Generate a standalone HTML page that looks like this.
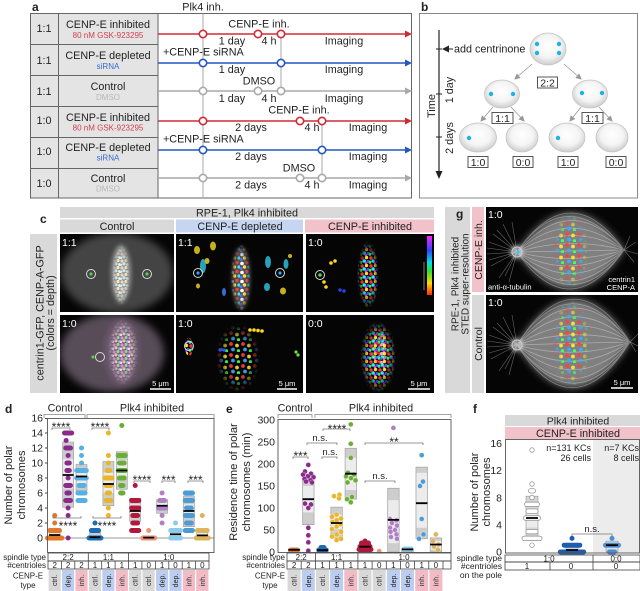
<!DOCTYPE html>
<html><head><meta charset="utf-8"><style>
html,body{margin:0;padding:0;background:#fff;width:640px;height:591px;overflow:hidden}
svg{display:block;font-family:"Liberation Sans",Arial,sans-serif}
</style></head><body>
<svg xmlns="http://www.w3.org/2000/svg" width="640" height="591" viewBox="0 0 640 591">
<defs>
<radialGradient id="cellg" cx="50%" cy="42%" r="58%"><stop offset="0" stop-color="#ffffff"/><stop offset="0.6" stop-color="#f4f4f4"/><stop offset="1" stop-color="#cdcdcd"/></radialGradient>
<linearGradient id="rb" x1="0" y1="1" x2="0" y2="0"><stop offset="0" stop-color="#ff2a00"/><stop offset="0.2" stop-color="#ffd800"/><stop offset="0.4" stop-color="#30e030"/><stop offset="0.55" stop-color="#00e0e8"/><stop offset="0.75" stop-color="#2848ff"/><stop offset="1" stop-color="#ff20ff"/></linearGradient>
<radialGradient id="fadeG" cx="50%" cy="50%" r="50%"><stop offset="0.55" stop-color="#fff"/><stop offset="1" stop-color="#000"/></radialGradient>
<mask id="mf" maskContentUnits="objectBoundingBox"><rect width="1" height="1" fill="url(#fadeG)"/></mask>
<filter id="b4" x="-50%" y="-50%" width="200%" height="200%"><feGaussianBlur stdDeviation="4"/></filter>
<filter id="b2" x="-50%" y="-50%" width="200%" height="200%"><feGaussianBlur stdDeviation="2"/></filter>
<marker id="ah" markerWidth="6" markerHeight="6" refX="5" refY="3" orient="auto" markerUnits="userSpaceOnUse"><path d="M0 0L6 3L0 6Z" fill="#999"/></marker>
<marker id="ahk" markerWidth="7" markerHeight="7" refX="6" refY="3.5" orient="auto" markerUnits="userSpaceOnUse"><path d="M0 0L7 3.5L0 7Z" fill="#222"/></marker>
<pattern id="rbw" width="9" height="8" patternUnits="userSpaceOnUse">
<circle cx="2" cy="2" r="1.7" fill="#ff3535"/><circle cx="6.5" cy="1.5" r="1.7" fill="#ffe030"/><circle cx="4.2" cy="5" r="1.7" fill="#30e8ff"/><circle cx="8.2" cy="5.5" r="1.6" fill="#3a5cff"/><circle cx="0.8" cy="6.2" r="1.6" fill="#40f040"/><circle cx="6" cy="7.4" r="1.2" fill="#ff40ff"/>
</pattern>
<pattern id="rbw2" width="10" height="9" patternUnits="userSpaceOnUse">
<circle cx="2" cy="2.5" r="1.8" fill="#ffffff"/><circle cx="7" cy="1.5" r="1.7" fill="#ff4040"/><circle cx="4.5" cy="6" r="1.7" fill="#ffe040"/><circle cx="9" cy="6" r="1.6" fill="#40e0ff"/><circle cx="1" cy="7.5" r="1.5" fill="#5070ff"/>
</pattern>
<pattern id="pst" width="8" height="7" patternUnits="userSpaceOnUse">
<circle cx="2" cy="2" r="1.6" fill="#ffd6d6"/><circle cx="6" cy="1.5" r="1.6" fill="#fff6c0"/><circle cx="4" cy="4.8" r="1.6" fill="#d0f6ff"/><circle cx="7.5" cy="5.5" r="1.4" fill="#ffffff"/><circle cx="0.8" cy="5.8" r="1.4" fill="#dcffd4"/>
</pattern>
<pattern id="pst2" width="8" height="7" patternUnits="userSpaceOnUse">
<circle cx="2" cy="2" r="1.6" fill="#f0a0f0"/><circle cx="6" cy="1.5" r="1.6" fill="#a0f0a0"/><circle cx="4" cy="4.8" r="1.6" fill="#ffe0a0"/><circle cx="7.5" cy="5.5" r="1.4" fill="#a0d8ff"/><circle cx="0.8" cy="5.8" r="1.4" fill="#ffffff"/>
</pattern>
<pattern id="rbs" width="12" height="11" patternUnits="userSpaceOnUse">
<circle cx="3" cy="3" r="1.9" fill="#ff4040"/><circle cx="9" cy="4.5" r="1.9" fill="#ffe030"/><circle cx="5" cy="8.5" r="1.9" fill="#40a8ff"/><circle cx="10.5" cy="9.8" r="1.7" fill="#40ff60"/>
</pattern>
<clipPath id="k1"><rect x="60" y="234" width="114" height="78"/></clipPath>
<clipPath id="k2"><rect x="176" y="234" width="127" height="78"/></clipPath>
<clipPath id="k3"><rect x="306" y="234" width="128" height="78"/></clipPath>
<clipPath id="k4"><rect x="60" y="315" width="114" height="78"/></clipPath>
<clipPath id="k5"><rect x="176" y="315" width="127" height="78"/></clipPath>
<clipPath id="k6"><rect x="306" y="315" width="128" height="78"/></clipPath>
<clipPath id="kg1"><rect x="486" y="207" width="152" height="85"/></clipPath>
<clipPath id="kg2"><rect x="486" y="295" width="152" height="98"/></clipPath>
</defs>

<!-- ===== Panel a ===== -->
<g font-size="10.8" fill="#222">
<text x="32" y="11" font-size="12" font-weight="bold">a</text>
<text x="203" y="10.5" text-anchor="middle">Plk4 inh.</text>
<rect x="30.5" y="13.5" width="127.5" height="184.5" fill="#e4e4e4"/>
<g stroke="#666" stroke-width="1" fill="none">
<rect x="30.5" y="13.5" width="381" height="184.5"/>
<line x1="58.5" y1="13.5" x2="58.5" y2="198"/>
<line x1="158" y1="13.5" x2="158" y2="198"/>
<path d="M30.5 44.5H158M30.5 75.5H158M30.5 106.5H158M30.5 137.5H158M30.5 168.5H158"/>
</g>
<g stroke="#aaa" stroke-width="1"><line x1="203" y1="13.5" x2="203" y2="198"/><line x1="281" y1="34" x2="281" y2="91"/><line x1="322" y1="121" x2="322" y2="178"/></g>
<g text-anchor="middle">
<text x="44" y="32">1:1</text><text x="44" y="64">1:1</text><text x="44" y="95">1:1</text>
<text x="44" y="124">1:0</text><text x="44" y="155">1:0</text><text x="44" y="187">1:0</text>
<text x="108" y="28">CENP-E inhibited</text>
<text x="108" y="38" font-size="8" fill="#d04050">80 nM GSK-923295</text>
<text x="108" y="59">CENP-E depleted</text>
<text x="108" y="69" font-size="8" fill="#3a6ad0">siRNA</text>
<text x="108" y="90">Control</text>
<text x="108" y="100" font-size="8" fill="#b8b8b8">DMSO</text>
<text x="108" y="121">CENP-E inhibited</text>
<text x="108" y="130.5" font-size="8" fill="#d04050">80 nM GSK-923295</text>
<text x="108" y="151">CENP-E depleted</text>
<text x="108" y="160.5" font-size="8" fill="#3a6ad0">siRNA</text>
<text x="108" y="182">Control</text>
<text x="108" y="191.5" font-size="8" fill="#b8b8b8">DMSO</text>
</g>
<g stroke-width="1.6">
<line x1="158" y1="34" x2="407" y2="34" stroke="#d22a35"/>
<line x1="158" y1="63" x2="407" y2="63" stroke="#2456c4"/>
<line x1="158" y1="91" x2="407" y2="91" stroke="#a8a8a8"/>
<line x1="158" y1="121" x2="407" y2="121" stroke="#d22a35"/>
<line x1="158" y1="150" x2="407" y2="150" stroke="#2456c4"/>
<line x1="158" y1="178" x2="407" y2="178" stroke="#a8a8a8"/>
</g>
<polygon points="405,30.5 412,34 405,37.5" fill="#d22a35"/>
<polygon points="405,59.5 412,63 405,66.5" fill="#2456c4"/>
<polygon points="405,87.5 412,91 405,94.5" fill="#a8a8a8"/>
<polygon points="405,117.5 412,121 405,124.5" fill="#d22a35"/>
<polygon points="405,146.5 412,150 405,153.5" fill="#2456c4"/>
<polygon points="405,174.5 412,178 405,181.5" fill="#a8a8a8"/>
<g fill="#fff" stroke-width="1.6">
<g stroke="#d22a35"><circle cx="203" cy="34" r="3.7"/><circle cx="258" cy="34" r="3.7"/><circle cx="281" cy="34" r="3.7"/><circle cx="203" cy="121" r="3.7"/><circle cx="300" cy="121" r="3.7"/><circle cx="322" cy="121" r="3.7"/></g>
<g stroke="#2456c4"><circle cx="203" cy="63" r="3.7"/><circle cx="281" cy="63" r="3.7"/><circle cx="203" cy="150" r="3.7"/><circle cx="322" cy="150" r="3.7"/></g>
<g stroke="#a8a8a8"><circle cx="203" cy="91" r="3.7"/><circle cx="258" cy="91" r="3.7"/><circle cx="281" cy="91" r="3.7"/><circle cx="203" cy="178" r="3.7"/><circle cx="300" cy="178" r="3.7"/><circle cx="322" cy="178" r="3.7"/></g>
</g>
<g text-anchor="middle">
<text x="259" y="27.5">CENP-E inh.</text>
<text x="232" y="44.5">1 day</text><text x="269" y="44.5">4 h</text><text x="344" y="44.5">Imaging</text>
<text x="163" y="55.5" text-anchor="start">+CENP-E siRNA</text>
<text x="232" y="73">1 day</text><text x="344" y="73">Imaging</text>
<text x="259" y="84.5">DMSO</text>
<text x="232" y="102">1 day</text><text x="269" y="102">4 h</text><text x="344" y="102">Imaging</text>
<text x="299" y="113.5">CENP-E inh.</text>
<text x="251" y="131">2 days</text><text x="312" y="131">4 h</text><text x="368" y="131">Imaging</text>
<text x="163" y="142.5" text-anchor="start">+CENP-E siRNA</text>
<text x="251" y="160">2 days</text><text x="368" y="160">Imaging</text>
<text x="299" y="171.5">DMSO</text>
<text x="251" y="188.5">2 days</text><text x="312" y="188.5">4 h</text><text x="368" y="188.5">Imaging</text>
</g>
</g>

<!-- ===== Panel b ===== -->
<g font-size="10.8" fill="#222">
<text x="421" y="11" font-size="12" font-weight="bold">b</text>
<rect x="419.5" y="13.5" width="218" height="184.5" fill="#fff" stroke="#888"/>
<line x1="439" y1="30" x2="439" y2="172" stroke="#222" stroke-width="1.2"/>
<polygon points="435.5,171 442.5,171 439,179" fill="#222"/>
<path d="M436 49H442M436 94H442M436 137H442" stroke="#222"/>
<line x1="453" y1="49" x2="443" y2="49" stroke="#222" stroke-width="1" marker-end="url(#ahk)"/>
<text x="454" y="52.5">add centrinone</text>
<text transform="translate(435,106) rotate(-90)" text-anchor="middle" font-size="11">Time</text>
<text transform="translate(453,90) rotate(-90)" text-anchor="middle">1 day</text>
<text transform="translate(453,138) rotate(-90)" text-anchor="middle">2 days</text>
<g stroke="#999" stroke-width="0.8" marker-end="url(#ah)">
<line x1="532" y1="64" x2="515" y2="79"/><line x1="564" y1="64" x2="581" y2="79"/>
<line x1="493" y1="107" x2="481" y2="121"/><line x1="511" y1="107" x2="524" y2="121"/>
<line x1="581" y1="107" x2="570" y2="121"/><line x1="599" y1="107" x2="612" y2="121"/>
</g>
<g fill="url(#cellg)" stroke="#c4c4c4" stroke-width="0.8">
<ellipse cx="548" cy="49" rx="18" ry="16"/>
<ellipse cx="502" cy="94" rx="17.5" ry="14"/><ellipse cx="590" cy="94" rx="17.5" ry="14"/>
<ellipse cx="478" cy="137.5" rx="18.5" ry="14.5"/><ellipse cx="522" cy="137.5" rx="16" ry="14.5"/>
<ellipse cx="567" cy="137.5" rx="18" ry="14.5"/><ellipse cx="612" cy="137.5" rx="16" ry="14.5"/>
</g>
<g fill="#1cb4e2">
<circle cx="537" cy="44" r="2.2"/><circle cx="537" cy="53" r="2.2"/><circle cx="559" cy="44" r="2.2"/><circle cx="559" cy="53" r="2.2"/>
<circle cx="491" cy="94" r="2.2"/><circle cx="513" cy="94" r="2.2"/><circle cx="582" cy="93" r="2.2"/><circle cx="602" cy="93" r="2.2"/>
<circle cx="469" cy="138" r="2.2"/><circle cx="558" cy="138" r="2.2"/>
</g>
<g fill="#fff" stroke="#444" stroke-width="0.9">
<rect x="537.5" y="77" width="20" height="11"/>
<rect x="492" y="112.5" width="21" height="11"/><rect x="582" y="112.5" width="21" height="11"/>
<rect x="468" y="156.5" width="20" height="11"/><rect x="513" y="156.5" width="20" height="11"/>
<rect x="558" y="156.5" width="20" height="11"/><rect x="606" y="156.5" width="20" height="11"/>
</g>
<g text-anchor="middle" font-size="10.5">
<text x="547.5" y="86.5">2:2</text>
<text x="502.5" y="122">1:1</text><text x="592.5" y="122">1:1</text>
<text x="478" y="166">1:0</text><text x="523" y="166">0:0</text><text x="568" y="166">1:0</text><text x="616" y="166">0:0</text>
</g>
</g>

<!-- ===== Panel c ===== -->
<g font-size="10.8" fill="#222">
<text x="40" y="223" font-size="12" font-weight="bold">c</text>
<rect x="60" y="207" width="374" height="11" fill="#d9d9d9"/>
<text x="247" y="216.5" text-anchor="middle">RPE-1, Plk4 inhibited</text>
<rect x="60" y="219.5" width="114" height="13" fill="#d9d9d9"/>
<rect x="176" y="219.5" width="127" height="13" fill="#c6d6f0"/>
<rect x="305" y="219.5" width="129" height="13" fill="#f2c2ca"/>
<text x="117" y="230" text-anchor="middle">Control</text>
<text x="240" y="230" text-anchor="middle">CENP-E depleted</text>
<text x="370" y="230" text-anchor="middle">CENP-E inhibited</text>
<rect x="30" y="234" width="27" height="159" fill="#d9d9d9"/>
<text transform="translate(43.5,313) rotate(-90)" text-anchor="middle">centrin1-GFP, CENP-A-GFP</text>
<text transform="translate(54,313) rotate(-90)" text-anchor="middle">(colors = depth)</text>
</g>
<rect x="60" y="234" width="114" height="78" fill="#050505"/>
<rect x="176" y="234" width="127" height="78" fill="#050505"/>
<rect x="306" y="234" width="128" height="78" fill="#050505"/>
<rect x="60" y="315" width="114" height="78" fill="#050505"/>
<rect x="176" y="315" width="127" height="78" fill="#050505"/>
<rect x="306" y="315" width="128" height="78" fill="#050505"/>
<!-- c1 -->
<g clip-path="url(#k1)">
<ellipse cx="117" cy="273" rx="56" ry="40" fill="#6e6e6e" opacity="0.6" filter="url(#b4)"/>
<ellipse cx="121" cy="274" rx="10" ry="29" fill="#e0e0e0" opacity="0.5" filter="url(#b2)"/>
<ellipse cx="121" cy="275" rx="9" ry="30" fill="url(#pst)" opacity="0.9" mask="url(#mf)"/>
</g>
<!-- c4 -->
<g clip-path="url(#k4)">
<ellipse cx="112" cy="353" rx="52" ry="39" fill="#7a6a7a" opacity="0.7" filter="url(#b4)"/>
<ellipse cx="122" cy="352" rx="16" ry="32" fill="#b07ab4" opacity="0.4" filter="url(#b4)"/>
<ellipse cx="123" cy="352" rx="15" ry="33" fill="url(#pst2)" opacity="0.8" mask="url(#mf)"/>
<circle cx="93" cy="357" r="1.6" fill="#5c5"/>
</g>
<!-- c2 -->
<g clip-path="url(#k2)">
<ellipse cx="241" cy="278" rx="9" ry="31" fill="#fff" opacity="0.3" filter="url(#b2)"/>
<ellipse cx="241" cy="278" rx="10" ry="34" fill="url(#rbw2)" mask="url(#mf)"/>
<g fill="#e8d020" opacity="0.85">
<ellipse cx="197" cy="250" rx="3" ry="4"/><ellipse cx="213" cy="246" rx="3" ry="4.5"/><ellipse cx="207" cy="261" rx="2.5" ry="3"/><ellipse cx="283" cy="291" rx="3" ry="3.5"/><ellipse cx="198" cy="286" rx="2" ry="2.5"/><ellipse cx="290" cy="256" rx="2" ry="2"/>
</g>
<g fill="#30c8e8" opacity="0.8">
<ellipse cx="203" cy="266" rx="3" ry="7"/><ellipse cx="268" cy="262" rx="3" ry="6"/><ellipse cx="286" cy="264" rx="2.5" ry="5"/><ellipse cx="267" cy="287" rx="3" ry="4"/>
</g>
<ellipse cx="224" cy="292" rx="2" ry="4" fill="#3a7ae8" opacity="0.9"/>
</g>
<!-- c5 -->
<g clip-path="url(#k5)">
<ellipse cx="238" cy="358" rx="22" ry="34" fill="url(#rbs)" opacity="0.9" mask="url(#mf)"/>
<ellipse cx="189" cy="347" rx="4" ry="9" fill="url(#rbw)"/>
<g fill="#ffd820"><circle cx="250" cy="330" r="1.8"/><circle cx="254" cy="330" r="1.8"/><circle cx="258" cy="330.5" r="1.8"/><circle cx="262" cy="331" r="1.8"/></g>
<g fill="#70e040"><circle cx="296" cy="352" r="1.6"/><circle cx="298" cy="355" r="1.6"/></g>
<g fill="#3050ff"><circle cx="220" cy="350" r="1.6"/><circle cx="224" cy="350" r="1.6"/></g>
</g>
<!-- c3 -->
<g clip-path="url(#k3)">
<ellipse cx="368" cy="275" rx="11" ry="34" fill="url(#rbw)" mask="url(#mf)"/>
<g fill="#ffd820"><circle cx="331" cy="263" r="1.8"/><circle cx="335" cy="261" r="1.8"/><circle cx="324" cy="282" r="1.8"/><circle cx="326" cy="287" r="1.8"/></g>
<g fill="#2a40e0"><circle cx="340" cy="290" r="1.8"/><circle cx="344" cy="291" r="1.8"/></g>
</g>
<!-- c6 -->
<g clip-path="url(#k6)">
<ellipse cx="378" cy="357" rx="18" ry="36" fill="url(#rbw)" mask="url(#mf)"/>
<ellipse cx="380" cy="350" rx="9" ry="22" fill="url(#rbw2)" opacity="0.7" mask="url(#mf)"/>
</g>
<g fill="none" stroke="#d8d8d8" stroke-width="1">
<circle cx="91" cy="274" r="4.5"/><circle cx="147" cy="274" r="4.5"/>
<circle cx="100" cy="357" r="4.5"/>
<circle cx="198" cy="273" r="4.5"/><circle cx="280" cy="273" r="4.5"/>
<circle cx="189" cy="346" r="4.5"/>
<circle cx="320" cy="275" r="4.5"/>
</g>
<g fill="#5c5"><circle cx="91" cy="274" r="1.6"/><circle cx="147" cy="274" r="1.6"/><circle cx="320" cy="275" r="1.8"/></g>
<g fill="#2af"><circle cx="198" cy="273" r="1.6"/><circle cx="280" cy="273" r="1.6"/></g>
<rect x="427" y="236" width="5" height="59" fill="url(#rb)"/>
<line x1="424" y1="262" x2="424" y2="290" stroke="#ccc" stroke-width="0.6"/>
<g fill="#fff" font-size="10.5">
<text x="62" y="246">1:1</text><text x="178" y="246">1:1</text><text x="308" y="246">1:0</text>
<text x="62" y="327">1:0</text><text x="178" y="327">1:0</text><text x="308" y="327">0:0</text>
</g>
<g stroke="#fff" stroke-width="1.5"><line x1="150" y1="389" x2="171" y2="389"/><line x1="277" y1="389" x2="297" y2="389"/><line x1="408" y1="389" x2="430" y2="389"/></g>
<g fill="#fff" font-size="7.5" text-anchor="middle"><text x="160.5" y="386">5 μm</text><text x="287" y="386">5 μm</text><text x="419" y="386">5 μm</text></g>

<!-- ===== Panel g ===== -->
<g fill="#222">
<rect x="445" y="207" width="25" height="186" fill="#d9d9d9"/>
<text x="456" y="218" font-size="12" font-weight="bold">g</text>
<text transform="translate(458.5,284) rotate(-90)" text-anchor="middle" font-size="10">RPE-1, Plk4 inhibited</text>
<text transform="translate(468.5,284) rotate(-90)" text-anchor="middle" font-size="10">STED super-resolution</text>
<rect x="472" y="207" width="12" height="85" fill="#f2c2ca"/>
<text transform="translate(482,250) rotate(-90)" text-anchor="middle" font-size="10.5">CENP-E inh.</text>
<rect x="472" y="295" width="12" height="98" fill="#d9d9d9"/>
<text transform="translate(482,344) rotate(-90)" text-anchor="middle" font-size="10.5">Control</text>
</g>
<rect x="486" y="207" width="152" height="85" fill="#050505"/>
<rect x="486" y="295" width="152" height="98" fill="#050505"/>
<g clip-path="url(#kg1)">
<path d="M517 252Q570.5 175 624 250Q570.5 327 517 252Z" fill="#b4b4b4" opacity="0.7" filter="url(#b4)"/>
<path d="M517 252Q570 175 624 250M517 252Q572 190 624 250M517 252Q569 205 624 250M517 252Q571 220 624 250M517 252Q570 236 624 250M517 252Q570 251 624 250M517 252Q571 266 624 250M517 252Q569 281 624 250M517 252Q572 296 624 250M517 252Q570 311 624 250M517 252Q570 327 624 250M517 252Q566 182 624 250M517 252Q574 318 624 250" fill="none" stroke="#fff" stroke-width="0.8" opacity="0.35"/>
<path d="M517 252l-28 -10M517 252l-30 2M517 252l-26 14M517 252l-20 -22M517 252l-14 -28M517 252l-5 -30M517 252l-18 26M517 252l-8 30M517 252l-24 -18M517 252l-30 -4M517 252l-28 8M517 252l-12 24M624 250l12 -8M624 250l14 4M624 250l10 12M624 250l6 -14" fill="none" stroke="#ddd" stroke-width="0.6" opacity="0.45"/>
<circle cx="517" cy="252" r="7" fill="#fff" opacity="0.5" filter="url(#b2)"/>
<circle cx="518" cy="252" r="1.8" fill="#3cf"/>
<ellipse cx="570" cy="251" rx="18" ry="38" fill="url(#rbs)" mask="url(#mf)"/>
</g>
<g clip-path="url(#kg2)">
<path d="M517 345Q573.5 255 630 342Q573.5 432 517 345Z" fill="#b4b4b4" opacity="0.7" filter="url(#b4)"/>
<path d="M517 345Q573 255 630 342M517 345Q575 273 630 342M517 345Q572 290 630 342M517 345Q574 308 630 342M517 345Q573 326 630 342M517 345Q573 343 630 342M517 345Q574 361 630 342M517 345Q572 379 630 342M517 345Q575 396 630 342M517 345Q573 414 630 342M517 345Q573 432 630 342M517 345Q570 264 630 342M517 345Q576 423 630 342" fill="none" stroke="#fff" stroke-width="0.8" opacity="0.35"/>
<path d="M517 345l-28 -10M517 345l-30 2M517 345l-26 14M517 345l-20 -22M517 345l-14 -28M517 345l-5 -30M517 345l-18 26M517 345l-8 30M517 345l-24 -18M517 345l-30 -4M517 345l-28 8M517 345l-12 24M630 342l8 -8M630 342l8 4M630 342l6 10" fill="none" stroke="#ddd" stroke-width="0.6" opacity="0.45"/>
<circle cx="517" cy="345" r="7" fill="#fff" opacity="0.45" filter="url(#b2)"/>
<ellipse cx="571" cy="344" rx="19" ry="44" fill="url(#rbs)" mask="url(#mf)"/>
</g>
<g fill="none" stroke="#ccc" stroke-width="1"><circle cx="517" cy="252" r="5"/><circle cx="517" cy="345" r="5"/></g>
<g fill="#fff" font-size="10.5"><text x="488" y="218">1:0</text><text x="488" y="306">1:0</text></g>
<g fill="#fff" font-size="7.5">
<text x="488" y="289.5">anti-α-tubulin</text>
<text x="635" y="282" text-anchor="end">centrin1</text>
<text x="635" y="290" text-anchor="end">CENP-A</text>
<text x="622" y="385" text-anchor="middle">5 μm</text>
</g>
<line x1="611" y1="388" x2="633" y2="388" stroke="#fff" stroke-width="1.5"/>

<!-- ===== Panel d ===== -->
<g fill="#222">
<text x="5" y="413" font-size="12" font-weight="bold">d</text>
<text x="65" y="411.5" font-size="10.8" text-anchor="middle">Control</text>
<text x="152" y="411.5" font-size="10.8" text-anchor="middle">Plk4 inhibited</text>
<path d="M44 418V414.5H85V418M87 418V414.5H214V418" fill="none" stroke="#888" stroke-width="0.8"/>
<text transform="translate(12,485) rotate(-90)" text-anchor="middle" font-size="11">Number of polar</text>
<text transform="translate(25,485) rotate(-90)" text-anchor="middle" font-size="11">chromosomes</text>
<g font-size="10.5" text-anchor="end">
<text x="43" y="541.7">0</text><text x="43" y="526.7">2</text><text x="43" y="511.7">4</text><text x="43" y="496.7">6</text><text x="43" y="481.7">8</text><text x="43" y="466.7">10</text><text x="43" y="451.7">12</text><text x="43" y="436.7">14</text><text x="43" y="421.7">16</text>
</g>
<path d="M45 538H47.5M45 523H47.5M45 508H47.5M45 493H47.5M45 478H47.5M45 463H47.5M45 448H47.5M45 433H47.5M45 418.5H47.5" stroke="#444"/>
<line x1="47.5" y1="538" x2="214" y2="538" stroke="#999" stroke-width="1"/>
</g>
<g stroke="#9a9a9a" stroke-width="0.6" fill="#cdcdcd">
<rect x="49.2" y="528.25" width="11" height="9.75"/>
<rect x="62.6" y="442" width="11" height="65.25"/>
<rect x="76" y="464.5" width="11" height="26.25"/>
<rect x="89.5" y="532.75" width="11" height="5.25"/>
<rect x="102.9" y="461.5" width="11" height="44.25"/>
<rect x="116.3" y="451.75" width="11" height="37.5"/>
<rect x="129.7" y="498.25" width="11" height="23.25"/>
<rect x="143.2" y="535.75" width="11" height="2.25"/>
<rect x="156.6" y="499.75" width="11" height="13.5"/>
<rect x="170" y="529" width="11" height="9"/>
<rect x="183.4" y="496" width="11" height="30.75"/>
<rect x="196.8" y="529.75" width="11" height="8.25"/>
</g>
<g fill="#ececec">
<rect x="49.7" y="532" width="10" height="5.25"/>
<rect x="63.1" y="459.25" width="10" height="29.25"/>
<rect x="76.5" y="471.25" width="10" height="12"/>
<rect x="103.4" y="472.75" width="10" height="20.25"/>
<rect x="116.8" y="460" width="10" height="18"/>
<rect x="130.2" y="504.25" width="10" height="11.25"/>
<rect x="157.1" y="502.75" width="10" height="6.75"/>
<rect x="170.5" y="531.25" width="10" height="5.25"/>
<rect x="183.9" y="504.25" width="10" height="12.75"/>
<rect x="197.3" y="532" width="10" height="5.25"/>
</g>
<g fill="none" stroke-width="5" stroke-linecap="round">
<path stroke="#e2782c" d="M47.5 538H61.9M49.9 530.5H59.5M54.7 523h0.01M54.7 515.5h0.01"/>
<path stroke="#8a2b8c" d="M64.5 433H71.7M66.1 440.5h0.01M65.7 448H70.5M68.1 455.5h0.01M66.9 463H69.3M66.9 470.5H69.3M68.1 478h0.01M65.7 485.5H70.5M66.9 493H69.3M65.7 500.5H70.5M68.1 508h0.01M68.1 515.5h0.01M68.1 538h0.01"/>
<path stroke="#58b0e2" d="M81.5 448h0.01M81.5 455.5h0.01M81.5 463h0.01M76.7 470.5H86.3M76.7 478H86.3M79.1 485.5H83.9M77.9 493H85.1M77.9 500.5H85.1"/>
<path stroke="#1c6cb4" d="M89 538H101M91.4 530.5H98.6M95 523h0.01"/>
<path stroke="#e9b52c" d="M108.4 433h0.01M108.4 455.5h0.01M108.4 463h0.01M107.2 470.5H109.6M104.8 478H112M106 485.5H110.8M107.2 493H109.6M106 500.5H110.8M108.4 508h0.01M108.4 515.5h0.01"/>
<path stroke="#6bae36" d="M121.8 425.5h0.01M118.2 455.5H125.4M119.4 463H124.2M118.2 470.5H125.4M119.4 478H124.2M120.6 485.5H123M120.6 493H123"/>
<path stroke="#b0183c" d="M135.2 485.5h0.01M131.6 500.5H138.8M131.6 508H138.8M132.8 515.5H137.6M132.8 523H137.6M131.6 530.5H138.8"/>
<path stroke="#e89478" d="M148.7 530.5h0.01M142.7 538H154.7"/>
<path stroke="#b07fc4" d="M162.1 493h0.01M159.7 500.5H164.5M158.5 508H165.7M162.1 515.5h0.01M162.1 523h0.01"/>
<path stroke="#8dcbed" d="M175.5 523h0.01M170.7 530.5H180.3M170.7 538H180.3"/>
<path stroke="#4c9bd4" d="M185.3 493H192.5M185.3 500.5H192.5M186.5 508H191.3M185.3 515.5H192.5M186.5 523H191.3M185.3 530.5H192.5"/>
<path stroke="#dcb45c" d="M202.3 515.5h0.01M197.5 530.5H207.1M196.3 538H208.3"/>
</g>
<path stroke="#000" stroke-width="1.8" d="M49.2 535H60.2M62.6 475H73.6M76 476.5H87M89.5 537.25H100.5M102.9 484H113.9M116.3 470.5H127.3M129.7 511H140.7M143.2 537.6H154.2M156.6 505.75H167.6M170 534.25H181M183.4 511H194.4M196.8 535.4H207.8"/>
<rect x="47.5" y="418.5" width="166.5" height="134" fill="none" stroke="#555" stroke-width="0.9"/>
<g fill="none" stroke="#777" stroke-width="0.8">
<path d="M52 430V428H70V430"/><path d="M53 516V518H81V516"/>
<path d="M92 430V428H109V430"/><path d="M93 516V518H121V516"/>
<path d="M134 483V481H150V483"/><path d="M162 483V481H175V483"/><path d="M188 483V481H203V483"/>
</g>
<g font-size="12" text-anchor="middle" fill="#222">
<text x="61" y="431">****</text><text x="68" y="530">****</text>
<text x="100" y="431">****</text><text x="107" y="530">****</text>
<text x="142" y="484">****</text><text x="168.5" y="484">***</text><text x="195.5" y="484">***</text>
</g>
<g fill="none" stroke="#444" stroke-width="0.8">
<rect x="48" y="553" width="161" height="8"/>
<path d="M88.3 553V561M128.5 553V561"/>
<rect x="48" y="561" width="161" height="8"/>
<path d="M61.4 561V569M74.8 561V569M88.3 561V569M101.7 561V569M115.1 561V569M128.5 561V569M141.9 561V569M155.4 561V569M168.8 561V569M182.2 561V569M195.6 561V569"/>
</g>
<g>
<rect x="48.6" y="570" width="12.2" height="21" fill="#d8d8d8"/>
<rect x="62" y="570" width="12.2" height="21" fill="#bccdef"/>
<rect x="75.4" y="570" width="12.2" height="21" fill="#f2bcc6"/>
<rect x="88.9" y="570" width="12.2" height="21" fill="#d8d8d8"/>
<rect x="102.3" y="570" width="12.2" height="21" fill="#bccdef"/>
<rect x="115.7" y="570" width="12.2" height="21" fill="#f2bcc6"/>
<rect x="129.1" y="570" width="12.2" height="21" fill="#d8d8d8"/>
<rect x="142.5" y="570" width="12.2" height="21" fill="#d8d8d8"/>
<rect x="156" y="570" width="12.2" height="21" fill="#bccdef"/>
<rect x="169.4" y="570" width="12.2" height="21" fill="#bccdef"/>
<rect x="182.8" y="570" width="12.2" height="21" fill="#f2bcc6"/>
<rect x="196.2" y="570" width="12.2" height="21" fill="#f2bcc6"/>
</g>
<g font-size="8" fill="#222">
<text x="46" y="560" text-anchor="end">spindle type</text>
<text x="46" y="568" text-anchor="end">#centrioles</text>
<text x="28" y="578.5" text-anchor="middle">CENP-E</text>
<text x="28" y="588" text-anchor="middle">type</text>
<g text-anchor="middle">
<text x="68.1" y="560">2:2</text><text x="108.4" y="560">1:1</text><text x="168.8" y="560">1:0</text>
<text x="54.7" y="568">2</text><text x="68.1" y="568">2</text><text x="81.5" y="568">2</text><text x="95" y="568">1</text><text x="108.4" y="568">1</text><text x="121.8" y="568">1</text><text x="135.2" y="568">1</text><text x="148.7" y="568">0</text><text x="162.1" y="568">1</text><text x="175.5" y="568">0</text><text x="188.9" y="568">1</text><text x="202.3" y="568">0</text>
</g>
<g text-anchor="middle" font-size="7">
<text transform="translate(57.2,580.5) rotate(-90)">ctrl.</text>
<text transform="translate(70.6,580.5) rotate(-90)">dep.</text>
<text transform="translate(84,580.5) rotate(-90)">inh.</text>
<text transform="translate(97.5,580.5) rotate(-90)">ctrl.</text>
<text transform="translate(110.9,580.5) rotate(-90)">dep.</text>
<text transform="translate(124.3,580.5) rotate(-90)">inh.</text>
<text transform="translate(137.7,580.5) rotate(-90)">ctrl.</text>
<text transform="translate(151.2,580.5) rotate(-90)">ctrl.</text>
<text transform="translate(164.6,580.5) rotate(-90)">dep.</text>
<text transform="translate(178,580.5) rotate(-90)">dep.</text>
<text transform="translate(191.4,580.5) rotate(-90)">inh.</text>
<text transform="translate(204.8,580.5) rotate(-90)">inh.</text>
</g>
</g>

<!-- ===== Panel e ===== -->
<g fill="#222">
<text x="226" y="413" font-size="12" font-weight="bold">e</text>
<text x="295" y="411.5" font-size="10.8" text-anchor="middle">Control</text>
<text x="381" y="411.5" font-size="10.8" text-anchor="middle">Plk4 inhibited</text>
<path d="M278 418V414.5H312V418M315 418V414.5H451V418" fill="none" stroke="#888" stroke-width="0.8"/>
<text transform="translate(237,482) rotate(-90)" text-anchor="middle" font-size="11.2">Residence time of polar</text>
<text transform="translate(250,482) rotate(-90)" text-anchor="middle" font-size="11.2">chromosomes (min)</text>
<g font-size="10.5" text-anchor="end">
<text x="275" y="555.7">0</text><text x="275" y="533.7">50</text><text x="275" y="511.7">100</text><text x="275" y="489.7">150</text><text x="275" y="467.7">200</text><text x="275" y="445.7">250</text><text x="275" y="423.7">300</text>
</g>
</g>
<g stroke="#9a9a9a" stroke-width="0.6" fill="#cdcdcd">
<rect x="288.35" y="548.9" width="11.5" height="3.1"/>
<rect x="302.55" y="474.1" width="11.5" height="50.6"/>
<rect x="316.75" y="548.5" width="11.5" height="3.5"/>
<rect x="330.85" y="507.1" width="11.5" height="30.8"/>
<rect x="345.05" y="448.2" width="11.5" height="51"/>
<rect x="359.25" y="544.1" width="11.5" height="7.9"/>
<rect x="387.65" y="488.2" width="11.5" height="63.8"/>
<rect x="401.75" y="548" width="11.5" height="4"/>
<rect x="415.95" y="467.1" width="11.5" height="71.7"/>
<rect x="430.15" y="537.9" width="11.5" height="14.1"/>
</g>
<g fill="#ececec">
<rect x="303.05" y="486" width="10.5" height="26.4"/>
<rect x="331.35" y="514.6" width="10.5" height="14.5"/>
<rect x="345.55" y="457.8" width="10.5" height="32.2"/>
<rect x="388.15" y="500.1" width="10.5" height="43.1"/>
<rect x="416.45" y="472.8" width="10.5" height="55"/>
<rect x="430.65" y="541" width="10.5" height="8.8"/>
</g>
<g stroke="rgba(255,255,255,0.5)" stroke-width="0.6">
<g fill="#8a2b8c">
<circle cx="308.3" cy="464.9" r="2.5"/><circle cx="305" cy="471.5" r="2.5"/><circle cx="311" cy="473.7" r="2.5"/><circle cx="303" cy="474.6" r="2.5"/><circle cx="308" cy="476.3" r="2.5"/><circle cx="313.5" cy="477.2" r="2.5"/><circle cx="304.5" cy="479" r="2.5"/><circle cx="310.5" cy="480.3" r="2.5"/><circle cx="306" cy="481.6" r="2.5"/><circle cx="312" cy="482.5" r="2.5"/><circle cx="305" cy="503.6" r="2.5"/><circle cx="311" cy="504.5" r="2.5"/><circle cx="308.3" cy="508" r="2.5"/><circle cx="308.3" cy="527.8" r="2.5"/><circle cx="308.3" cy="535.3" r="2.5"/><circle cx="308.3" cy="542.3" r="2.5"/><circle cx="308.3" cy="550.7" r="2.5"/>
</g>
<g fill="#e9b52c">
<circle cx="339.5" cy="494.8" r="2.5"/><circle cx="334" cy="496.1" r="2.5"/><circle cx="339" cy="498.4" r="2.5"/><circle cx="336.6" cy="514.6" r="2.5"/><circle cx="332" cy="516.8" r="2.5"/><circle cx="341" cy="518.6" r="2.5"/><circle cx="336.6" cy="520.3" r="2.5"/><circle cx="332.5" cy="522.1" r="2.5"/><circle cx="340.5" cy="524.3" r="2.5"/><circle cx="336.6" cy="526.5" r="2.5"/><circle cx="332" cy="529.1" r="2.5"/><circle cx="341" cy="531.8" r="2.5"/><circle cx="336.6" cy="534.4" r="2.5"/><circle cx="332" cy="536.6" r="2.5"/><circle cx="341" cy="538.8" r="2.5"/><circle cx="336.6" cy="540.1" r="2.5"/>
</g>
<g fill="#6bae36">
<circle cx="350.8" cy="424.4" r="2.5"/><circle cx="350.8" cy="443.8" r="2.5"/><circle cx="350.8" cy="457.8" r="2.5"/><circle cx="348" cy="472.8" r="2.5"/><circle cx="354" cy="474.6" r="2.5"/><circle cx="346" cy="476.3" r="2.5"/><circle cx="351" cy="478.1" r="2.5"/><circle cx="355.5" cy="480.3" r="2.5"/><circle cx="347.5" cy="482.5" r="2.5"/><circle cx="352" cy="497" r="2.5"/><circle cx="347" cy="499.2" r="2.5"/><circle cx="350.8" cy="502.3" r="2.5"/>
</g>
<g fill="#b07fc4">
<circle cx="393.4" cy="427.9" r="2.5"/><circle cx="390" cy="519" r="2.5"/><circle cx="396.5" cy="520.3" r="2.5"/><circle cx="392" cy="523" r="2.5"/><circle cx="397" cy="525.6" r="2.5"/><circle cx="390" cy="527.8" r="2.5"/><circle cx="395" cy="530" r="2.5"/><circle cx="390.5" cy="531.8" r="2.5"/><circle cx="396.5" cy="534.4" r="2.5"/><circle cx="391" cy="537" r="2.5"/><circle cx="397" cy="538.8" r="2.5"/>
</g>
<g fill="#4c9bd4">
<circle cx="421.7" cy="455.2" r="2.5"/><circle cx="423" cy="481.6" r="2.5"/><circle cx="420" cy="486" r="2.5"/><circle cx="421.7" cy="519" r="2.5"/><circle cx="423.5" cy="534.4" r="2.5"/><circle cx="419" cy="538.8" r="2.5"/>
</g>
<g fill="#dcb45c">
<circle cx="435.9" cy="534.4" r="2.5"/><circle cx="433" cy="541" r="2.5"/><circle cx="438.5" cy="544.5" r="2.5"/><circle cx="434" cy="546.7" r="2.5"/><circle cx="438" cy="549.8" r="2.5"/>
</g>
<circle cx="379.2" cy="551.1" r="2.5" fill="#e89478"/>
</g>
<g fill="none" stroke-width="5" stroke-linecap="round">
<path stroke="#e2782c" d="M291 550H297"/>
<path stroke="#1c6cb4" d="M319 550H326M321 547.5H324"/>
<path stroke="#b0183c" d="M359 549.5H371M360 546.5H370M361.5 543H368.5M365 541h0.01"/>
<path stroke="#8dcbed" d="M404 549H411"/>
</g>
<path stroke="#000" stroke-width="1.8" d="M288.35 549.8H299.85M302.55 499.2H314.05M316.75 550.2H328.25M330.85 523H342.35M345.05 473.7H356.55M359.25 546.7H370.75M387.65 519.9H399.15M401.75 549.4H413.25M415.95 503.2H427.45M430.15 544.5H441.65"/>
<rect x="278" y="419.5" width="173" height="133" fill="none" stroke="#555" stroke-width="0.9"/>
<g fill="none" stroke="#777" stroke-width="0.8">
<path d="M293 459V457H308V459"/><path d="M322 459V457H337V459"/>
<path d="M307 445V443H337V445"/><path d="M323 431V429H350V431"/>
<path d="M365 445V443H423V445"/><path d="M365 483V481H395V483"/>
</g>
<g fill="#222" text-anchor="middle">
<text x="300.5" y="460" font-size="12">***</text>
<text x="337" y="433" font-size="12">****</text>
<text x="394" y="446" font-size="12">**</text>
<text x="330" y="455" font-size="9.5">n.s.</text>
<text x="320" y="441" font-size="9.5">n.s.</text>
<text x="380" y="479" font-size="9.5">n.s.</text>
</g>
<g fill="none" stroke="#444" stroke-width="0.8">
<rect x="287" y="553" width="164" height="8"/>
<path d="M315.4 553V561M357.9 553V561"/>
<rect x="287" y="561" width="164" height="8"/>
<path d="M301.2 561V569M315.4 561V569M329.5 561V569M343.7 561V569M357.9 561V569M372.1 561V569M386.3 561V569M400.4 561V569M414.6 561V569M428.8 561V569M443 561V569"/>
</g>
<g>
<rect x="287.6" y="570" width="13" height="21" fill="#d8d8d8"/>
<rect x="301.8" y="570" width="13" height="21" fill="#bccdef"/>
<rect x="316" y="570" width="13" height="21" fill="#d8d8d8"/>
<rect x="330.1" y="570" width="13" height="21" fill="#bccdef"/>
<rect x="344.3" y="570" width="13" height="21" fill="#f2bcc6"/>
<rect x="358.5" y="570" width="13" height="21" fill="#d8d8d8"/>
<rect x="372.7" y="570" width="13" height="21" fill="#d8d8d8"/>
<rect x="386.9" y="570" width="13" height="21" fill="#bccdef"/>
<rect x="401" y="570" width="13" height="21" fill="#bccdef"/>
<rect x="415.2" y="570" width="13" height="21" fill="#f2bcc6"/>
<rect x="429.4" y="570" width="13" height="21" fill="#f2bcc6"/>
</g>
<g font-size="8" fill="#222">
<text x="285" y="560" text-anchor="end">spindle type</text>
<text x="285" y="568" text-anchor="end">#centrioles</text>
<text x="270" y="578.5" text-anchor="middle">CENP-E</text>
<text x="270" y="588" text-anchor="middle">type</text>
<g text-anchor="middle">
<text x="301.2" y="560">2:2</text><text x="336.6" y="560">1:1</text><text x="404" y="560">1:0</text>
<text x="294.1" y="568">2</text><text x="308.3" y="568">2</text><text x="322.5" y="568">1</text><text x="336.6" y="568">1</text><text x="350.8" y="568">1</text><text x="365" y="568">1</text><text x="379.2" y="568">0</text><text x="393.4" y="568">1</text><text x="407.5" y="568">0</text><text x="421.7" y="568">1</text><text x="435.9" y="568">0</text>
</g>
<g text-anchor="middle" font-size="7">
<text transform="translate(296.6,580.5) rotate(-90)">ctrl.</text>
<text transform="translate(310.8,580.5) rotate(-90)">dep.</text>
<text transform="translate(325,580.5) rotate(-90)">ctrl.</text>
<text transform="translate(339.1,580.5) rotate(-90)">dep.</text>
<text transform="translate(353.3,580.5) rotate(-90)">inh.</text>
<text transform="translate(367.5,580.5) rotate(-90)">ctrl.</text>
<text transform="translate(381.7,580.5) rotate(-90)">ctrl.</text>
<text transform="translate(395.9,580.5) rotate(-90)">dep.</text>
<text transform="translate(410,580.5) rotate(-90)">dep.</text>
<text transform="translate(424.2,580.5) rotate(-90)">inh.</text>
<text transform="translate(438.4,580.5) rotate(-90)">inh.</text>
</g>
</g>

<!-- ===== Panel f ===== -->
<g fill="#222">
<text x="473" y="413" font-size="12" font-weight="bold">f</text>
<rect x="505" y="415" width="135" height="11" fill="#d9d9d9"/>
<text x="578" y="424.5" font-size="10.5" text-anchor="middle">Plk4 inhibited</text>
<rect x="505" y="427" width="135" height="12" fill="#f2c2ca"/>
<text x="578" y="437" font-size="10.8" text-anchor="middle">CENP-E inhibited</text>
<rect x="593" y="439.5" width="47" height="113" fill="#ececec"/>
<text transform="translate(478,492) rotate(-90)" text-anchor="middle" font-size="11">Number of polar</text>
<text transform="translate(490,492) rotate(-90)" text-anchor="middle" font-size="11">chromosomes</text>
<g font-size="10.5" text-anchor="end">
<text x="502" y="555.7">0</text><text x="502" y="528.5">4</text><text x="502" y="501.3">8</text><text x="502" y="474.1">12</text><text x="502" y="446.9">16</text>
</g>
<g font-size="9" text-anchor="end">
<text x="591" y="451">n=131 KCs</text><text x="591" y="461">26 cells</text>
<text x="639" y="451">n=7 KCs</text><text x="639" y="461">8 cells</text>
</g>
</g>
<g stroke="#9a9a9a" stroke-width="0.6" fill="#d6d6d6">
<rect x="526" y="496.2" width="12" height="42.2"/>
<rect x="566" y="545.9" width="12" height="6.1"/>
<rect x="606" y="541.1" width="12" height="10.9"/>
</g>
<g fill="#ececec"><rect x="526.5" y="508.5" width="11" height="19"/><rect x="606.5" y="543.2" width="11" height="5.4"/></g>
<g fill="none" stroke-linecap="round">
<path stroke="#8a8a8a" stroke-width="5.2" d="M532 450h0.01M532 484h0.01M530.7 490.8H533.3M532 497.6h0.01M526.8 504.4H537.2M528.1 511.2H535.9M525.5 518H538.5M528.1 531.6H535.9M524.2 538.4H539.8M532 545.2h0.01"/>
<path stroke="#ffffff" stroke-width="3.8" d="M532 450h0.01M532 484h0.01M530.7 490.8H533.3M532 497.6h0.01M526.8 504.4H537.2M528.1 511.2H535.9M525.5 518H538.5M528.1 531.6H535.9M524.2 538.4H539.8M532 545.2h0.01"/>
<path stroke="#1d5eae" stroke-width="5" d="M572 538.4h0.01M564.2 545.2H579.8M560.3 552H583.7"/>
<path stroke="#4d8fd6" stroke-width="5" d="M612 538.4h0.01M605.5 545.2H618.5M609.4 552H614.6"/>
</g>
<path stroke="#000" stroke-width="1.8" d="M526 518H538M566 550H578M606 545.2H618"/>
<rect x="505.5" y="439.5" width="134" height="113.5" fill="none" stroke="#555" stroke-width="0.9"/>
<path d="M572 536V534H612V536" fill="none" stroke="#777" stroke-width="0.8"/>
<text x="592" y="532" font-size="9.5" text-anchor="middle" fill="#222">n.s.</text>
<g fill="none" stroke="#444" stroke-width="0.8">
<rect x="505" y="555" width="135" height="7"/><path d="M593 555V562"/>
<rect x="505" y="562" width="135" height="8"/><path d="M550 562V570M593 562V570"/>
</g>
<g font-size="8.5" fill="#222">
<text x="502" y="561" text-anchor="end">spindle type</text>
<text x="502" y="569" text-anchor="end">#centrioles</text>
<text x="502" y="578" text-anchor="end">on the pole</text>
<g text-anchor="middle" font-size="8">
<text x="549" y="561.5">1:0</text><text x="616" y="561.5">0:0</text>
<text x="527" y="569">1</text><text x="571" y="569">0</text><text x="616" y="569">0</text>
</g>
</g>
</svg>
</body></html>
